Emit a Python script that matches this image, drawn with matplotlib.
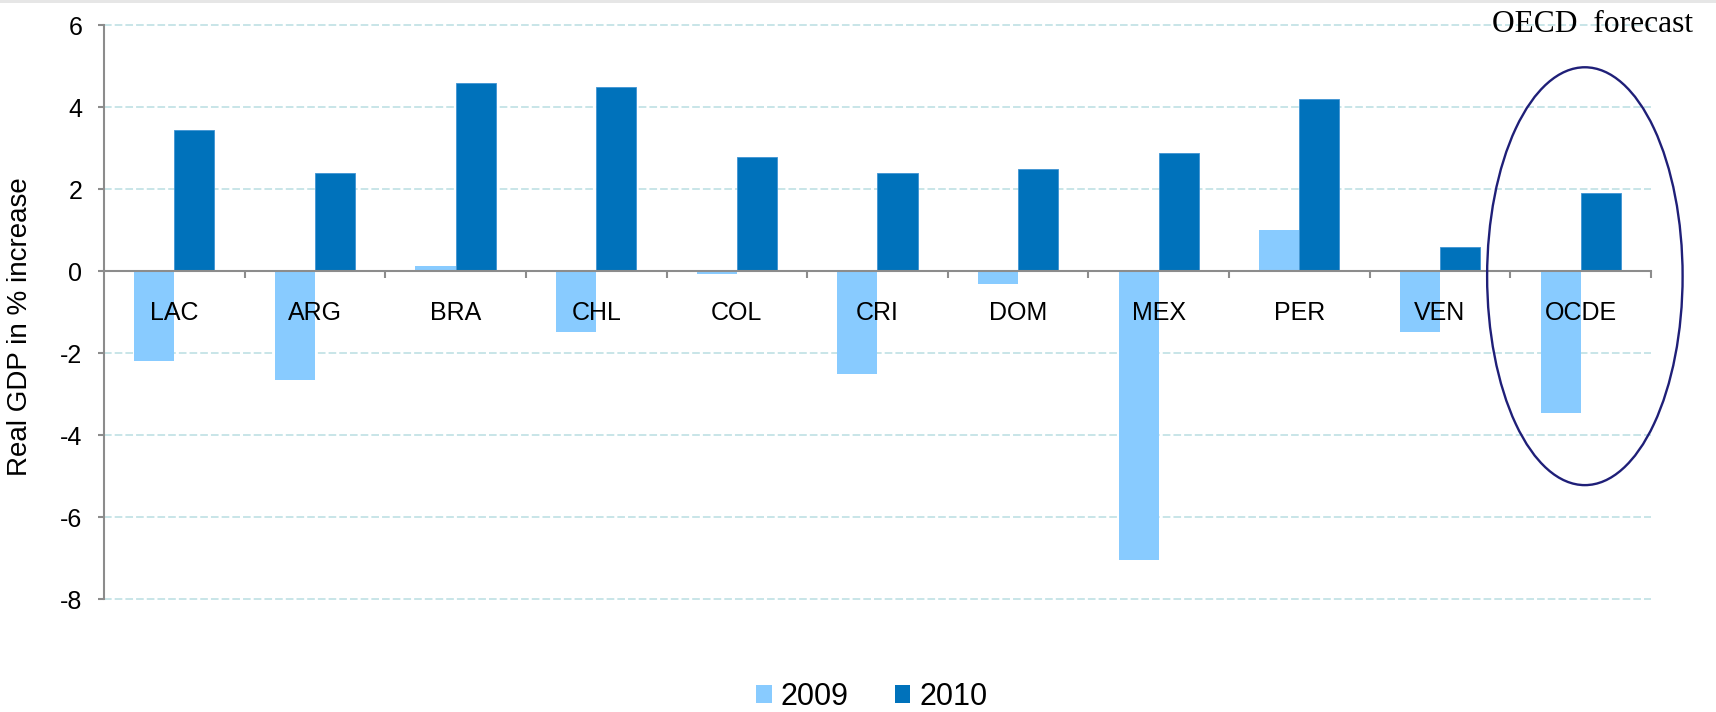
import numpy as np
import matplotlib
matplotlib.use("Agg")
import matplotlib.pyplot as plt
from matplotlib.patches import Ellipse, Patch, Rectangle

plt.rcParams["font.family"] = ["Liberation Sans", "DejaVu Sans"]
plt.rcParams["axes.unicode_minus"] = False

## data
countries = ["LAC", "ARG", "BRA", "CHL", "COL", "CRI", "DOM", "MEX", "PER", "VEN", "OCDE"]
gdp_2009 = [-2.2, -2.65, 0.12, -1.48, -0.07, -2.5, -0.3, -7.05, 1.0, -1.48, -3.47]
gdp_2010 = [3.44, 2.41, 4.6, 4.5, 2.8, 2.4, 2.5, 2.88, 4.2, 0.6, 1.9]
years = ["2009", "2010"]
yticks = [-8, -6, -4, -2, 0, 2, 4, 6]

## style
c09 = "#88CBFF"
c10 = "#0072BB"
axis_gray = "#8C8C8C"
grid_col = "#B9DEE2"
bw = 0.285

fig = plt.figure(figsize=(17.16, 7.12), dpi=100)
ax = fig.add_axes([0.0606, 0.1587, 0.9015, 0.8055])

x = np.arange(len(countries))
ax.bar(x - bw / 2, gdp_2009, bw, color=c09, zorder=2)
ax.bar(x + bw / 2, gdp_2010, bw, color=c10, edgecolor="#3F93D3", linewidth=0.6, zorder=2)

ax.set_xlim(-0.5, len(countries) - 0.5)
ax.set_ylim(-8, 6)
ax.set_yticks(yticks)
ax.set_yticklabels([str(v) for v in yticks])

# dashed horizontal grid
ax.grid(axis="y", color=grid_col, linestyle=(0, (5, 2)), linewidth=1.1)
ax.grid(axis="x", visible=False)
for gl in ax.get_ygridlines():
    gl.set_clip_on(False)
ax.set_axisbelow(True)

# zero line carries the category ticks
for s in ["top", "right"]:
    ax.spines[s].set_visible(False)
ax.spines["bottom"].set_position(("data", 0))
ax.spines["bottom"].set_color(axis_gray)
ax.spines["bottom"].set_linewidth(1.5)
ax.spines["bottom"].set_zorder(3)
ax.spines["left"].set_color(axis_gray)
ax.spines["left"].set_linewidth(1.5)
ax.set_xticks(np.arange(len(countries)) + 0.5)
ax.set_xticklabels([])
ax.tick_params(axis="x", direction="out", length=5, width=1.5, color=axis_gray)
ax.tick_params(axis="y", direction="out", length=4.5, width=1.5, color=axis_gray,
               labelsize=18, pad=11)

for i, name in enumerate(countries):
    ax.text(i, -1.02, name, ha="center", va="center", fontsize=18, zorder=4)

ax.set_ylabel("Real GDP in % increase", fontsize=20)
ax.yaxis.set_label_coords(-0.046, 0.475)

# highlight the OECD forecast
ell = Ellipse((10.03, -0.12), 1.39, 10.2, fill=False, edgecolor="#1F1F78",
              linewidth=1.7, clip_on=False, zorder=5)
ax.add_patch(ell)
fig.text(0.9866, 0.9546, "OECD  forecast", ha="right", va="baseline",
         fontsize=22.7, family=["Liberation Serif", "DejaVu Serif"])

handles = [Patch(facecolor=c09), Patch(facecolor=c10)]
fig.legend(handles, years, loc="center", bbox_to_anchor=(0.508, 0.021),
           ncol=2, frameon=False, fontsize=22, handlelength=0.52, handleheight=0.52,
           handletextpad=0.3, columnspacing=1.5)

# thin grey band along the top edge
fig.patches.append(Rectangle((0, 1 - 3 / 712), 1, 3 / 712, transform=fig.transFigure,
                             facecolor="#E6E6E6", edgecolor="none"))

fig.savefig("out.png", dpi=100)
